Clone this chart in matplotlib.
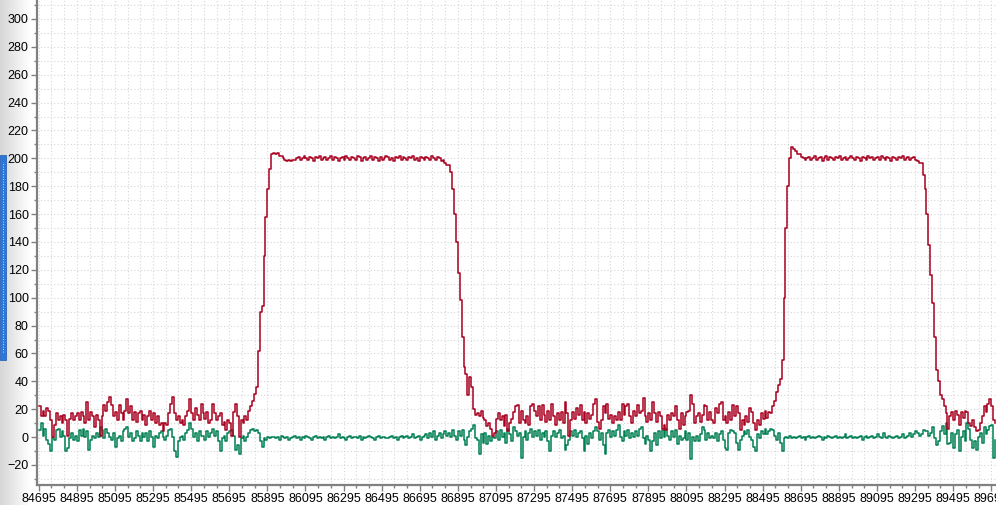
import numpy as np
import matplotlib
matplotlib.use("Agg")
from matplotlib import pyplot as plt
from matplotlib.patches import Rectangle
from matplotlib.ticker import MultipleLocator, FixedLocator

# sample spacing on the x axis and first sample
X_START = 84695
STEP = 10

# red trace
red_base1 = [22, 15, 19, 15, 21, 19, 12, 0, 9, 17, 12, 15, 10, 16, 12, 1, 13, 17, 12, 15,
             17, 12, 18, 15, 10, 25, 12, 18, 15, 7, 16, 12, 1, 15, 23, 19, 25, 29, 23, 15,
             18, 12, 23, 17, 12, 19, 27, 17, 22, 12, 18, 11, 17, 19, 12, 16, 9, 15, 19, 12,
             17, 10, 15, 9, 10, 4, 10, 9, 17, 24, 29, 17, 12, 15, 10, 12, 9, 15, 19, 27,
             17, 12, 21, 16, 12, 24,
             17, 13, 18, 10, 12, 24, 17, 12, 15, 17, 9, 11, 5, 12, 10, 1, 18, 24, 15, 0,
             12, 10, 15, 12, 19, 22]
red_rise1 = [26, 31, 36, 62, 90, 94, 130, 158, 178, 192, 203]
red_top1 = [204, 203, 204, 202, 202, 200, 199, 198, 199, 198, 199, 199, 200, 201, 199, 200,
            202, 200, 199, 201, 200, 198, 201, 200, 202, 199, 200, 201, 199, 200, 202, 199,
            201, 200, 198, 200, 201, 199, 202, 200, 199, 201, 200, 199, 202, 201, 198, 200,
            201, 199, 200, 202, 199, 201, 200, 198, 201, 199, 200, 202, 201, 199, 200, 198,
            201, 200, 202, 199, 201, 200, 199, 201, 200, 202, 199, 200, 198, 201, 200, 199,
            201, 200, 199, 202, 200, 199, 201, 200, 198, 199, 197, 195]
red_fall1 = [195, 190, 178, 160, 140, 118, 98, 72, 50, 45, 30, 43, 36, 20, 16]
red_base2 = [17, 15, 19, 14, 12, 8, 10, 6, 1, 3, 13, 17, 12, 15, 8, 16, 4, 10, 13, 18,
             22, 23, 10, 19,
             12, 10, 15, 9, 22, 24, 19, 15, 22, 12, 23, 16, 11, 19, 12, 24, 15, 9, 17, 12,
             18, 10, 25, 17, 1, 12, 18, 13, 21, 16, 23, 12, 18, 10, 17, 13, 16, 24, 27, 11,
             6, 12, 22, 17, 24, 13, 16, 10, 15, 12, 18, 12, 24, 16, 22, 24, 15, 10, 19, 15,
             23, 17, 19, 28, 15, 11, 17, 12, 25, 17, 11, 18, 15, 6, 9, 5, 16, 12, 17, 15,
             22, 12, 6, 17,
             9, 15, 18, 19, 30, 24, 10, 15, 17, 11, 16, 23, 22, 12, 18, 12, 10, 21, 17, 24,
             25, 12, 15, 10, 18, 12, 23, 15, 22, 17, 5, 12, 9, 15, 11, 21, 18, 10, 5, 12,
             9, 17, 13, 19]
red_rise2 = [14, 18, 17, 22, 26, 32, 37, 42, 55, 100, 150, 180, 200, 208]
red_top2 = [207, 205, 203, 203, 201, 200, 199, 200, 201, 199, 200, 202, 199, 200, 201, 198,
            200, 202, 199, 201, 200, 199, 201, 200, 202, 199, 200, 201, 199, 200, 202, 200,
            199, 201, 200, 198, 201, 200, 199, 202, 200, 201, 199, 200, 201, 199, 202, 200,
            199, 201, 200, 198, 201, 200, 199, 201, 200, 202, 199, 200, 201, 199, 200, 201,
            199, 198, 197]
red_fall2 = [197, 188, 178, 160, 138, 116, 96, 72, 48, 40, 30, 27, 22, 17, 6]
red_base3 = [15, 18, 12, 19, 16, 9, 18, 14, 19, 18, 10, 8, 12, 7, 4, 5, 10, 15, 22, 18,
             24, 27, 22, 12, 10]

# green trace
green_base1 = [5, 10, 1, 6, -2, -5, -10, -1, -2, 5, 6, 0, 4, 1, -10, -8, -1, 3, -2, 1,
               -3, 5, 1, 6, 0, 4, -9, -2, 1, -1, 3, 0, 7, 5, -1, 6, 3, 0, -2, 3,
               -7, -1, 1, -3, 4, 6, 7, 0, 3, -3, -1, 4, 1, -3, 3, 0, 3, -3, 4, 0,
               -7, 1, -1, 3, 4, 0, -2, 1, 5, 6, 0, -10, -14, -3, 0, 1, -2, 3, 5, 10,
               6, 0, 3, -3, 4, 1,
               1, -2, 4, 0, 3, 6, 1, 4, -3, -10, -1, 1, -3, 3, 4, 5, 1, -9, -6, -12,
               -1, 1, -3, 0, 3, 5]
green_rise1 = [6, 4, 5, 3, -3, -7, -1, -2, 0, -1, 0]
green_top1 = [0, -1, 0, -2, 1, 0, -1, 0, -2, -1, 0, 1, -1, 0, -2, 0, -1, 1, 0, -1,
              -2, 0, 1, -1, 0, -1, 0, -2, 0, 1, -1, 0, -1, 0, 2, -1, 0, -1, -2, 0,
              1, -1, 0, 0, -1, 1, -2, 0, -1, 0, 1, 0, -1, -2, 0, 1, -1, 0, 0, -1,
              -1, 0, 1, -1, 0, -2, 0, 1, -1, 0, 1, -1, 0, 2, -1, 0, 1, -2, 0, 1,
              2, -1, 3, 0, 4, -2, 1, 3, -1, 2, 4, 1]
green_fall1 = [3, 0, 5, 1, -2, 4, 1, 5, -2, -6, 0, 4, 6, 9, -1]
green_base2 = [-2, -12, 2, -4, 3, -5, 1, -3, 0, -1, 4, -2, 5, 0, 3, -4, 6, 2, -3, 7,
               4, 1, 3, -15,
               0, 4, -2, 3, 6, 0, 4, 1, 5, -2, 3, 0, 4, -3, -10, 1, 4, 0, 3, 5,
               -1, 1, -9, -6, -2, 4, 1, 5, 0, 3, 4, -1, -10, 1, -5, 3, -1, 4, 7, 4,
               -2, 3, -6, -12, 3, 5, 0, 4, 1, 5, 9, 0, -3, 4, 1, 5, -1, 3, 0, 4,
               1, 6, 7, -1, -5, 1, -2, -10, -3, 3, -6, 4, -1, 5, 0, 6, 1, -2, 4, 0,
               5, -5, 1, -2,
               -1, 4, -2, 3, -16, 0, -3, 1, -3, 2, 7, 5, -2, 3, -1, 1, -1, 3, -3, 2,
               4, -2, -8, -9, 3, 5, 4, 3, -4, -9, -2, 1, 4, 2, 5, 0, -2, -7, -10, 2,
               -1, 4, 2, 6]
green_rise2 = [2, 4, 6, 5, 1, -2, 3, -4, -10, -1, 0, -1, 1, -1]
green_top2 = [0, -1, 0, 1, -1, 0, -2, 0, 1, -1, 0, -1, 0, 1, 0, -2, 0, -1, 1, 0,
              -1, 0, 1, -1, 0, -1, 0, 2, -1, 0, 1, -1, 0, -1, 0, 1, -2, 0, 1, -1,
              0, 1, -1, 0, 2, 0, -1, 3, 0, -1, 1, 0, -1, 0, 1, -1, 0, 2, -1, 0,
              1, 3, 0, 2, 4, 3, 1]
green_fall2 = [2, 5, 4, 4, 1, 3, 7, -1, -6, -3, 4, 8, 2, 10, -5]
green_base3 = [-4, 3, -8, 2, 5, -10, 0, 4, -3, 10, 6, -2, -8, -3, -9, 0, 3, -4, 7, 2,
               5, 8, 9, -15, -2]

red = np.concatenate([red_base1, red_rise1, red_top1, red_fall1, red_base2,
                      red_rise2, red_top2, red_fall2, red_base3])
green = np.concatenate([green_base1, green_rise1, green_top1, green_fall1, green_base2,
                        green_rise2, green_top2, green_fall2, green_base3])
x_red = X_START + STEP * np.arange(len(red))
x_green = X_START + STEP * np.arange(len(green))

W, H = 996, 505
fig = plt.figure(figsize=(W / 100, H / 100), dpi=100)
fig.patch.set_facecolor("white")

# grey fade on the left edge
bg = fig.add_axes([0, 0, 30 / W, 1], zorder=0)
grad = np.linspace(0.84, 1.0, 64).reshape(1, -1)
bg.imshow(grad, cmap="gray", vmin=0, vmax=1, aspect="auto", extent=[0, 1, 0, 1])
bg.axis("off")

ax = fig.add_axes([37 / W, 20 / H, (W - 37) / W, 485 / H], zorder=2)
ax.plot(x_red, red, color="#a8001f", lw=1.1, drawstyle="steps-post", zorder=3)
ax.plot(x_green, green, color="#007f52", lw=1.1, drawstyle="steps-post", zorder=2)

ax.set_xlim(84686, 89720)
ax.set_ylim(-34.4, 313.6)

axis_grey = "#808080"
for side in ("top", "right"):
    ax.spines[side].set_visible(False)
for side in ("left", "bottom"):
    ax.spines[side].set_color(axis_grey)
    ax.spines[side].set_linewidth(1.6)

ax.yaxis.set_major_locator(MultipleLocator(20))
ax.yaxis.set_minor_locator(MultipleLocator(10))
ax.xaxis.set_major_locator(FixedLocator(np.arange(X_START, 89800, 200)))
ax.xaxis.set_minor_locator(FixedLocator(np.arange(X_START, 89800, 200 / 3)))
ax.tick_params(which="major", length=4, width=1, color=axis_grey, pad=2,
               labelsize=9, labelcolor="black")
ax.tick_params(which="minor", length=2.5, width=1, color=axis_grey)
for lab in ax.get_xticklabels() + ax.get_yticklabels():
    lab.set_fontfamily("Liberation Sans")

ax.grid(True, which="both", color="#d6d6d6", linestyle=(0, (1, 2)), linewidth=0.8)
ax.set_axisbelow(True)

# blue slider at the left edge
fig.patches.append(Rectangle((0, (H - 360) / H), 6 / W, 205 / H, transform=fig.transFigure,
                             facecolor="#2b78dc", edgecolor="#1a56b0", lw=0.5, zorder=5))
fig.lines.append(plt.Line2D([3 / W, 3 / W], [(H - 352) / H, (H - 163) / H],
                            transform=fig.transFigure, color="white", lw=0.6,
                            linestyle=(0, (1, 2)), zorder=6))

fig.savefig("out.png", dpi=100)
